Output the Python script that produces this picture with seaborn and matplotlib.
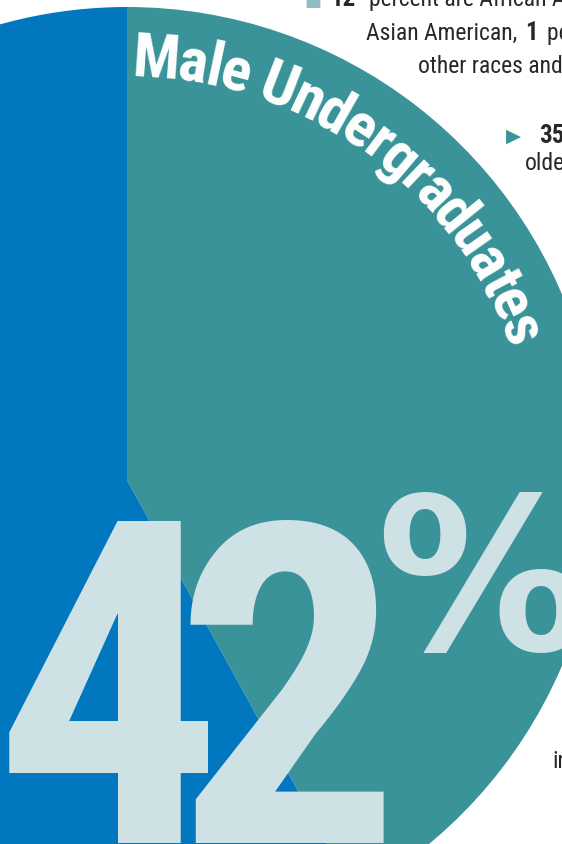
import numpy as np
import matplotlib
matplotlib.use('Agg')
from matplotlib import pyplot as plt
from matplotlib import font_manager as fm
from matplotlib.textpath import TextPath
import seaborn as sns

sns.set_theme(style='white')

# chart content
groups = ['Male undergraduates', 'Female undergraduates']
shares = [42, 58]
headline = 'Male Undergraduates'
big_value = '42'
big_unit = '%'

# side notes (partly cut off by the page edge in the original)
note_1 = ['12', 'percent are African American, 11 percent']
note_2 = ['Asian American,', '1', 'percent are']
note_3 = 'other races and ethnicities.'
note_4 = ['35', 'percent are 25 or']
note_5 = 'older'
note_6 = 'in'

teal = '#3a9399'
blue = '#0077bf'
pale = '#cee1e4'
ink = '#2a2728'

W, H = 562, 844


def pick_font(names):
    for n in names:
        try:
            fm.findfont(fm.FontProperties(family=n), fallback_to_default=False)
            return n
        except ValueError:
            pass
    return 'DejaVu Sans'


narrow = pick_font(['Liberation Sans Narrow', 'Roboto Condensed', 'Liberation Sans'])

fig = plt.figure(figsize=(W / 100, H / 100), dpi=100)
ax = fig.add_axes([0, 0, 1, 1])

# pie: centre and radius in pixel units (y measured upward)
cx, cy, R = 127, H - 480, 473
ax.pie(shares, colors=[teal, blue], startangle=90, counterclock=False,
       center=(cx, cy), radius=R, wedgeprops=dict(linewidth=0))
ax.set_xlim(0, W)
ax.set_ylim(0, H)
ax.set_aspect('equal')
ax.axis('off')


def fit_text(s, left, top, bottom, family, color):
    # size the text so its ink fills the box from top to bottom (y down)
    prop = fm.FontProperties(family=family, weight='bold')
    ext = TextPath((0, 0), s, size=100, prop=prop).get_extents()
    k = (bottom - top) / ext.height
    prop.set_size(k * 100 * 72 / fig.dpi)
    x = left - ext.x0 * k
    base = bottom + ext.y0 * k
    ax.text(x, H - base, s, fontproperties=prop, color=color,
            ha='left', va='baseline')


# big number, one digit at a time so they sit as close as in the print
for ch, left in zip(big_value, [8, 190]):
    fit_text(ch, left, 520, 843, narrow, pale)
fit_text(big_unit, 383, 493, 653, 'DejaVu Sans', pale)

# curved headline along the rim
hprop = fm.FontProperties(family=narrow, weight='bold')
probe = TextPath((0, 0), 'll', size=100, prop=hprop).get_extents()


def advance(c):
    a = TextPath((0, 0), 'l' + c + 'l', size=100, prop=hprop).get_extents().width
    return a - probe.width


adv = np.array([advance(c) for c in headline])
r_base = 403
a0, a1 = np.radians(0.9), np.radians(71)
k = (a1 - a0) * r_base / adv.sum()
hprop.set_size(1.08 * k * 100 * 72 / fig.dpi)
cum = np.concatenate([[0], np.cumsum(adv)[:-1]]) * k
for c, c0, w in zip(headline, cum, adv * k):
    th = a0 + (c0 + w / 2) / r_base
    ax.text(cx + r_base * np.sin(th), cy + r_base * np.cos(th), c,
            fontproperties=hprop, color='white', rotation=-np.degrees(th),
            rotation_mode='anchor', ha='center', va='baseline')

# side notes
body = dict(family=[narrow, 'DejaVu Sans'], fontsize=17, color=ink,
            ha='left', va='baseline')
bold = {**body, 'fontweight': 'bold', 'fontsize': 18}
ax.text(304, H - 6, '■', **{**body, 'fontsize': 13, 'color': '#8fbdc2'})
ax.text(330, H - 6, note_1[0], **bold)
ax.text(369, H - 6, note_1[1], **body)
ax.text(366, H - 40, note_2[0], **body)
ax.text(525, H - 40, note_2[1], **bold)
ax.text(547, H - 40, note_2[2], **body)
ax.text(418, H - 73, note_3, **body)
ax.text(506, H - 142, '▶', **{**body, 'family': 'DejaVu Sans', 'fontsize': 14,
                             'color': teal})
ax.text(539, H - 143, note_4[0], **bold)
ax.text(525, H - 170, note_5, **body)
ax.text(552, H - 768, note_6, **body)

plt.savefig('out.png', dpi=100)
